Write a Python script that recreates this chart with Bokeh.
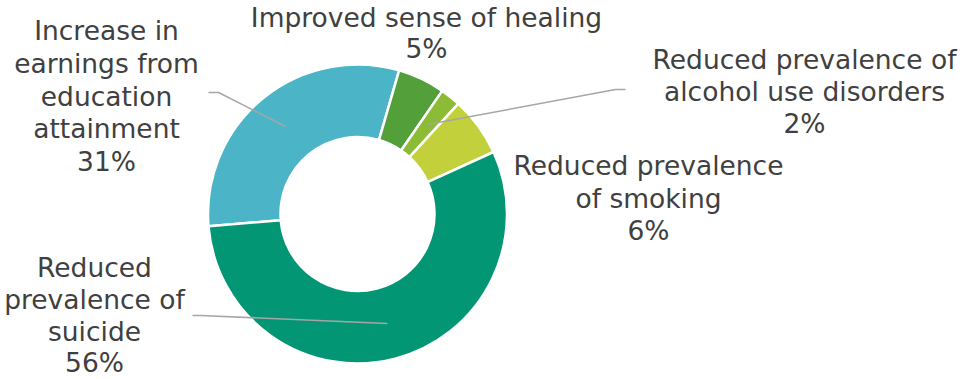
import math
from bokeh.plotting import figure
from bokeh.models import Range1d, ColumnDataSource
from bokeh.core.properties import value
from bokeh.embed import file_html
from bokeh.resources import INLINE

# ---- data ----
categories = [
    "Increase in earnings from education attainment",
    "Improved sense of healing",
    "Reduced prevalence of alcohol use disorders",
    "Reduced prevalence of smoking",
    "Reduced prevalence of suicide",
]
values = [30.8, 5.1, 2.2, 6.4, 55.5]
pct_labels = ["31%", "5%", "2%", "6%", "56%"]
label_lines = [
    ["Increase in", "earnings from", "education", "attainment"],
    ["Improved sense of healing"],
    ["Reduced prevalence of", "alcohol use disorders"],
    ["Reduced prevalence", "of smoking"],
    ["Reduced", "prevalence of", "suicide"],
]
colors = ["#4BB4C6", "#53A03A", "#8CBB36", "#C2D03B", "#039674"]

# ---- layout ----
W, H = 960, 379
def dx(px):
    return px
def dy(py):
    return H - py

cx, cy = dx(357), dy(213.5)
r_out, r_in = 149.5, 77
start_cw = 265.3  # degrees clockwise from 12 o'clock where first slice begins

p = figure(width=W, height=H, output_backend="svg", toolbar_location=None,
           x_range=Range1d(0, W), y_range=Range1d(0, H), min_border=0)
p.axis.visible = False
p.grid.visible = False
p.outline_line_color = None
p.background_fill_color = "white"

total = sum(values)
starts, ends = [], []
acc = start_cw
for v in values:
    a0 = acc
    a1 = acc + v / total * 360.0
    acc = a1
    starts.append(math.radians(90 - a0))
    ends.append(math.radians(90 - a1))

src = ColumnDataSource(dict(x=[cx] * len(values), y=[cy] * len(values),
                            start=starts, end=ends, color=colors, cat=categories))
p.annular_wedge(x="x", y="y", inner_radius=r_in, outer_radius=r_out,
                start_angle="start", end_angle="end", direction="clock",
                fill_color="color", line_color="white", line_width=2.5, source=src)

# leader lines (page pixel coordinates)
leaders = [
    [(208, 92), (218, 92), (285, 126)],
    [(625, 89), (615, 89), (427, 124)],
    [(192, 315), (200, 315), (387, 323)],
]
for pts in leaders:
    p.line([dx(a) for a, b in pts], [dy(b) for a, b in pts],
           line_color="#A6A6A6", line_width=1.5)

# label positions: center x, first-line y, line step (page pixels)
label_pos = [
    (106, 30, 32.75),
    (426, 17, 31),
    (804, 59, 32),
    (648, 165, 32.5),
    (94, 267, 31.8),
]
xs, ys, ts = [], [], []
for lines, pct, (lx, ly, step) in zip(label_lines, pct_labels, label_pos):
    for i, t in enumerate(lines + [pct]):
        xs.append(dx(lx))
        ys.append(dy(ly + i * step))
        ts.append(t)

p.text(x=xs, y=ys, text=ts, text_font=value("DejaVu Sans"), text_font_size="26.5px",
       text_color="#404040", text_align="center", text_baseline="middle")

open("out.html", "w").write(file_html(p, INLINE))
